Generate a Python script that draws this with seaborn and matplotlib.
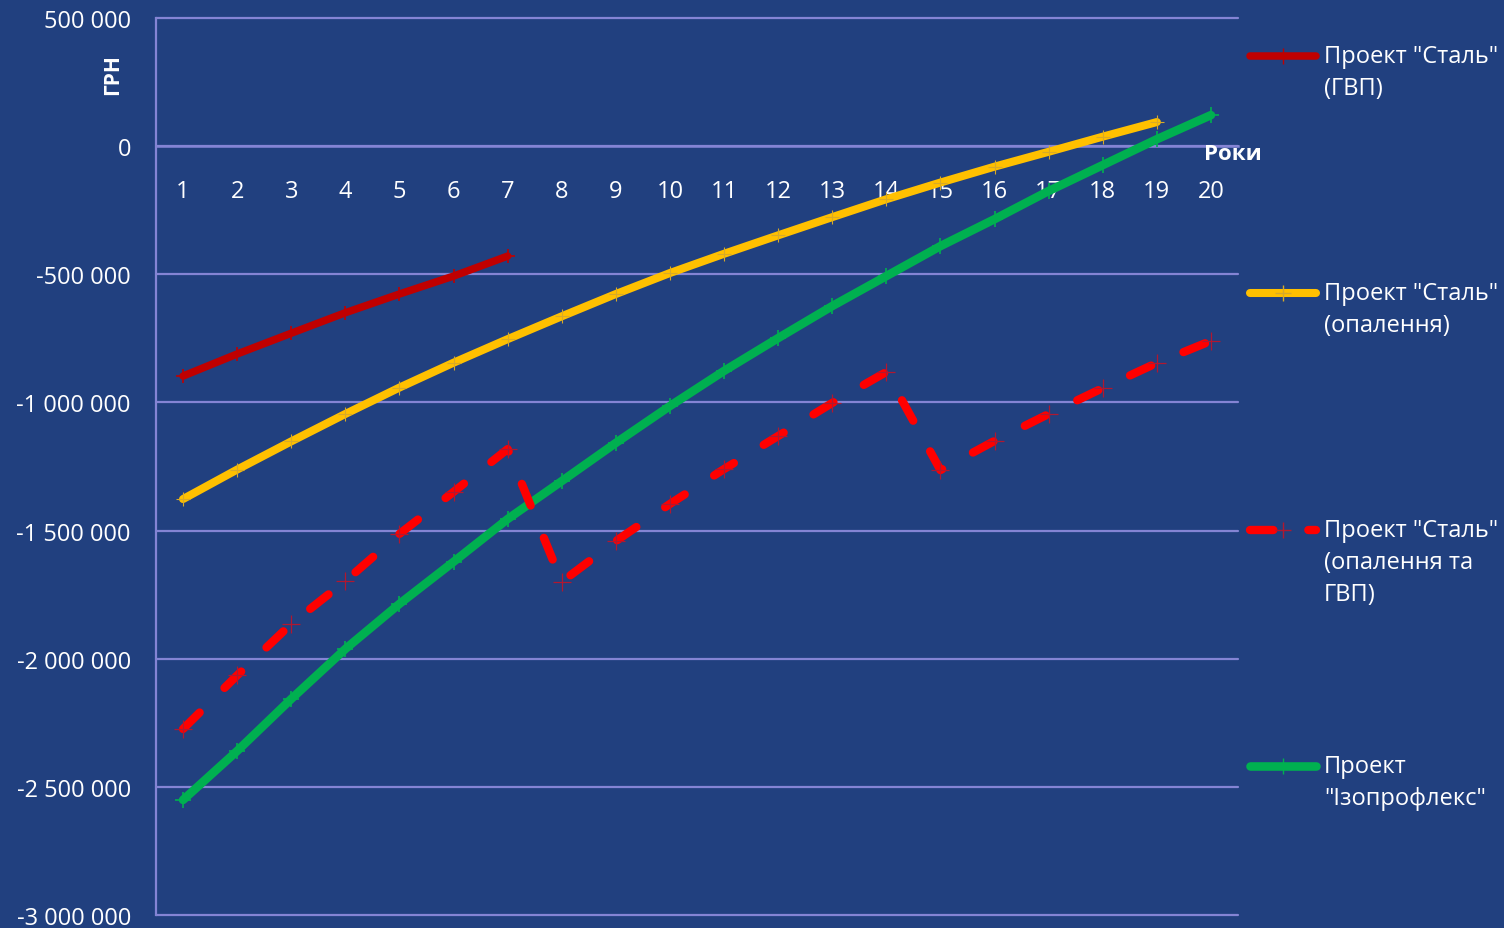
import matplotlib
matplotlib.use('Agg')
import matplotlib.pyplot as plt
import seaborn as sns
import pandas as pd
from matplotlib.lines import Line2D
from matplotlib.ticker import FuncFormatter, FixedLocator

# ---------------- data ----------------
years = list(range(1, 21))
year_labels = [str(y) for y in years]
stal_gvp = [-897000, -811000, -730000, -650000, -577000, -507000, -429000]
stal_opal = [-1377000, -1262000, -1152000, -1045000, -942000, -845000, -753000,
             -664000, -577000, -495000, -420000, -348000, -277000, -207000,
             -142000, -80000, -22000, 37000, 94000]
stal_opal_gvp = [-2274000, -2065000, -1864000, -1697000, -1513000, -1349000,
                 -1182000, -1700000, -1541000, -1396000, -1260000, -1131000,
                 -1002000, -881000, -1264000, -1150000, -1045000, -944000,
                 -846000, -760000]
izo = [-2551000, -2360000, -2157000, -1962000, -1786000, -1622000, -1455000,
       -1307000, -1158000, -1014000, -877000, -749000, -624000, -507000,
       -390000, -285000, -175000, -74000, 27000, 121000]

series_names = ['Проект "Сталь"\n(ГВП)', 'Проект "Сталь"\n(опалення)',
                'Проект "Сталь"\n(опалення та\nГВП)', 'Проект\n"Ізопрофлекс"']
y_ticks = [500000, 0, -500000, -1000000, -1500000, -2000000, -2500000, -3000000]
x_axis_label = 'Роки'
y_axis_label = 'ГРН'

# ---------------- style ----------------
BG = '#21407F'
GRID = '#8484D4'
C_GVP = '#C00000'
C_OPAL = '#FFC000'
C_OG = '#FF0000'
C_IZO = '#00B050'
M_OPAL = '#D8AA28'
M_OG = '#B01830'

sns.set_style('white')
plt.rcParams['font.family'] = ['Open Sans', 'DejaVu Sans']

W, H = 1504, 929
fig = plt.figure(figsize=(W / 100, H / 100), dpi=100, facecolor=BG)
ax = fig.add_axes([156 / W, 1 - 916 / H, (1238 - 156) / W, (916 - 19) / H])
ax.set_facecolor(BG)

def frame(vals, name):
    return pd.DataFrame({'year': years[:len(vals)], 'value': vals, 'series': name})

dash = (0, (2.8, 4.2))

sns.lineplot(data=frame(stal_gvp, series_names[0]), x='year', y='value', ax=ax,
             color=C_GVP, lw=5.4, marker='+', ms=10, mew=1.2, mec=C_GVP,
             solid_capstyle='round', estimator=None, legend=False, zorder=4)
sns.lineplot(data=frame(stal_opal, series_names[1]), x='year', y='value', ax=ax,
             color=C_OPAL, lw=5.8, marker='+', ms=10, mew=0.8, mec=M_OPAL,
             solid_capstyle='round', estimator=None, legend=False, zorder=4)
sns.lineplot(data=frame(izo, series_names[3]), x='year', y='value', ax=ax,
             color=C_IZO, lw=6.2, marker='+', ms=11, mew=1.2, mec=C_IZO,
             solid_capstyle='round', estimator=None, legend=False, zorder=4)
sns.lineplot(data=frame(stal_opal_gvp, series_names[2]), x='year', y='value', ax=ax,
             color=C_OG, lw=6.0, linestyle=dash, dash_capstyle='round',
             marker='+', ms=13, mew=0.9, mec=M_OG,
             estimator=None, legend=False, zorder=5)

# ---------------- axes ----------------
ax.set_xlim(0.5, 20.5)
ax.set_ylim(-3000000, 500000)
ax.set_xlabel('')
ax.set_ylabel('')

for s in ['top', 'right']:
    ax.spines[s].set_visible(False)
ax.spines['left'].set_color(GRID)
ax.spines['left'].set_linewidth(1.6)
ax.spines['bottom'].set_position(('data', 0))
ax.spines['bottom'].set_color(GRID)
ax.spines['bottom'].set_linewidth(1.8)
ax.spines['bottom'].set_zorder(3)

ax.yaxis.set_major_locator(FixedLocator(y_ticks))
ax.yaxis.set_major_formatter(FuncFormatter(lambda v, p: f'{int(v):,}'.replace(',', ' ')))
ax.tick_params(axis='y', which='major', length=6, width=1.5, color=GRID,
               labelcolor='white', labelsize=17, pad=12, direction='out')

ax.xaxis.set_major_locator(FixedLocator([y + 0.5 for y in range(0, 21)]))
ax.xaxis.set_major_formatter(FuncFormatter(lambda v, p: ''))
ax.xaxis.set_minor_locator(FixedLocator(years))
ax.set_xticks(years, labels=year_labels, minor=True)
ax.tick_params(axis='x', which='major', length=6, width=1.5, color=GRID, direction='out')
ax.tick_params(axis='x', which='minor', length=0, labelcolor='white', labelsize=17, pad=24)

ax.grid(axis='y', color=GRID, lw=1.6)
ax.grid(axis='x', visible=False)
for gl in ax.get_ygridlines():
    gl.set_clip_on(False)
ax.set_axisbelow(True)

# axis titles
fig.text(113 / W, 1 - 75 / H, y_axis_label, rotation=90, color='white',
         fontsize=15, fontweight='bold', ha='center', va='center')
ax.text(20.4, -28000, x_axis_label, color='white', fontsize=16,
        fontweight='bold', ha='center', va='center', zorder=6)

# ---------------- legend (manual, right side) ----------------
entries = [
    (57, C_GVP, '-', 5.4, C_GVP),
    (294, C_OPAL, '-', 5.8, M_OPAL),
    (531, C_OG, dash, 6.0, M_OG),
    (767, C_IZO, '-', 6.2, C_IZO),
]
for (ypx, col, ls, lw, mcol), name in zip(entries, series_names):
    yf = 1 - ypx / H
    fig.add_artist(Line2D([1250 / W, 1316 / W], [yf, yf], color=col, lw=lw,
                          linestyle=ls, solid_capstyle='round', dash_capstyle='round',
                          transform=fig.transFigure))
    fig.add_artist(Line2D([1283 / W], [yf], color=mcol, marker='+', ms=12, mew=1.0,
                          linestyle='none', transform=fig.transFigure))
    for i, line in enumerate(name.split('\n')):
        fig.text(1324 / W, 1 - (ypx + 32 * i) / H, line, color='white',
                 fontsize=17, ha='left', va='center')

fig.savefig('out.png', dpi=100, facecolor=BG)
